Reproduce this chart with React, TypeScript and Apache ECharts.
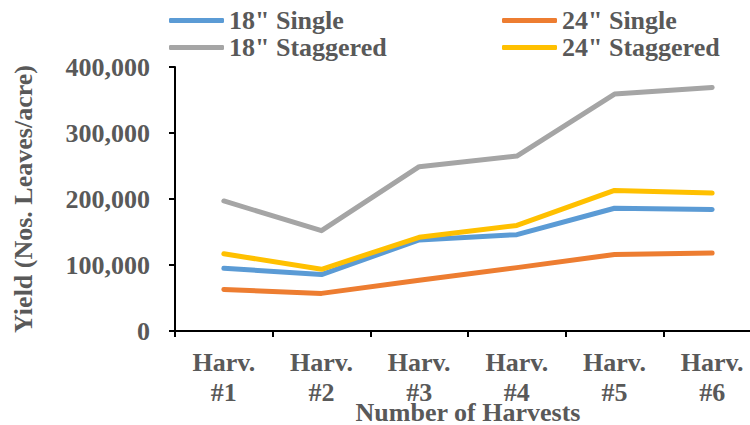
import React, { useEffect, useRef } from "react";
import * as echarts from "echarts";

const categories = ["Harv.\n#1", "Harv.\n#2", "Harv.\n#3", "Harv.\n#4", "Harv.\n#5", "Harv.\n#6"];
const single18 = [95000, 85500, 138000, 146000, 186000, 184000];
const single24 = [63000, 57000, 77000, 96000, 116000, 118000];
const staggered18 = [197000, 152000, 249000, 265000, 359000, 369000];
const staggered24 = [117000, 93500, 142000, 160000, 213000, 209000];
const seriesNames = ['18" Single', '24" Single', '18" Staggered', '24" Staggered'];
const colors = ["#5B9BD5", "#ED7D31", "#A5A5A5", "#FFC000"];

const FONT = "'Liberation Serif', 'Times New Roman', serif";
const TXT = "#595959";
const FS = 26;

export default function App() {
  const ref = useRef<HTMLDivElement>(null);
  useEffect(() => {
    if (!ref.current) return;
    const chart = echarts.init(ref.current, null, { renderer: "svg" });
    const data = [single18, single24, staggered18, staggered24];
    const legendText = { fontFamily: FONT, fontWeight: "bold", fontSize: FS, color: TXT, lineHeight: 27 };
    const legendCommon = {
      orient: "vertical",
      top: 7,
      padding: 0,
      icon: "roundRect",
      itemWidth: 55,
      itemHeight: 5,
      itemGap: 0,
      textStyle: legendText,
    };
    chart.setOption({
      animation: false,
      color: colors,
      legend: [
        { ...legendCommon, data: [seriesNames[0], seriesNames[2]], left: 169 },
        { ...legendCommon, data: [seriesNames[1], seriesNames[3]], left: 502 },
      ],
      grid: { left: 175, top: 67, bottom: 94, right: -11, containLabel: false, outerBoundsMode: "none" },
      xAxis: {
        type: "category",
        data: categories,
        boundaryGap: true,
        name: "Number of Harvests",
        nameLocation: "middle",
        nameGap: 68,
        nameMoveOverlap: false,
        nameTextStyle: { fontFamily: FONT, fontWeight: "bold", fontSize: FS, color: TXT },
        axisLine: { lineStyle: { color: "#000", width: 2 } },
        axisTick: { show: true, length: 6, lineStyle: { color: "#000", width: 2 } },
        axisLabel: {
          fontFamily: FONT,
          fontWeight: "bold",
          fontSize: FS,
          color: TXT,
          lineHeight: 30,
          margin: 16,
        },
        splitLine: { show: false },
      },
      yAxis: {
        type: "value",
        min: 0,
        max: 400000,
        interval: 100000,
        name: "Yield (Nos. Leaves/acre)",
        nameLocation: "middle",
        nameGap: 139,
        nameRotate: 90,
        nameMoveOverlap: false,
        nameTextStyle: { fontFamily: FONT, fontWeight: "bold", fontSize: FS, color: TXT },
        axisLine: { show: true, lineStyle: { color: "#000", width: 2 } },
        axisTick: { show: true, length: 6, lineStyle: { color: "#000", width: 2 } },
        axisLabel: {
          fontFamily: FONT,
          fontWeight: "bold",
          fontSize: FS,
          color: TXT,
          margin: 25,
          formatter: (v: number) => v.toLocaleString("en-US"),
        },
        splitLine: { show: false },
      },
      series: data.map((d, i) => ({
        name: seriesNames[i],
        type: "line",
        data: d,
        symbol: "none",
        lineStyle: { width: 5, color: colors[i], cap: "round", join: "round" },
        itemStyle: { color: colors[i] },
      })),
    });
    return () => chart.dispose();
  }, []);
  return <div ref={ref} style={{ width: 750, height: 425, position: "absolute", left: 0, top: 0 }} />;
}
